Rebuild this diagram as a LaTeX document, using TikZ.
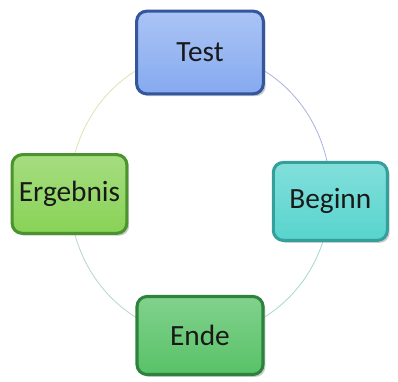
\documentclass[tikz,border=0pt]{standalone}
\usepackage{fontspec}
\setmainfont{Carlito}
\usetikzlibrary{shadows,backgrounds}
\definecolor{testfill}{HTML}{86AAF0}
\definecolor{testline}{HTML}{34569F}
\definecolor{begfill}{HTML}{58D4CE}
\definecolor{begline}{HTML}{35A09B}
\definecolor{ergfill}{HTML}{88D256}
\definecolor{ergline}{HTML}{4A932E}
\definecolor{endfill}{HTML}{58C267}
\definecolor{endline}{HTML}{2C843C}
\tikzset{
  stepbox/.style={rectangle, rounded corners=7.5pt, line width=2.3pt,
    font=\fontsize{22}{25}\selectfont, text=black!90, inner sep=0pt,
    drop shadow={shadow xshift=1.8pt, shadow yshift=-1.8pt, opacity=0.4}},
  ring/.style={line width=0.6pt}
}
\begin{document}
\begin{tikzpicture}[x=0.75pt,y=0.75pt]
\useasboundingbox (0,0) rectangle (398,381);
\coordinate (mid) at (200,187);
% the four boxes on the ring
\node[stepbox, draw=testline, top color=testfill!70!white, bottom color=testfill,
  minimum width=95pt, minimum height=62pt] (test) at ([shift={(90:130.5 and 141.5)}]mid) {Test};
\node[stepbox, draw=begline, top color=begfill!75!white, bottom color=begfill,
  minimum width=85.5pt, minimum height=58.5pt] (beginn) at ([shift={(-3:130.5 and 141.5)}]mid) {Beginn};
\node[stepbox, draw=endline, top color=endfill!75!white, bottom color=endfill,
  minimum width=94.5pt, minimum height=58.5pt] (ende) at ([shift={(-90:130.5 and 141.5)}]mid) {Ende};
\node[stepbox, draw=ergline, top color=ergfill!75!white, bottom color=ergfill,
  minimum width=86pt, minimum height=59pt] (ergebnis) at ([shift={(180:130.5 and 141.5)}]mid) {Ergebnis};
% ring segments behind
\begin{scope}[on background layer]
\draw[ring, color={rgb,255:red,170;green,178;blue,222}] (test.center) arc[start angle=90, end angle=-3, x radius=97.875pt, y radius=106.125pt];
\draw[ring, color={rgb,255:red,160;green,218;blue,206}] (beginn.center) arc[start angle=-3, end angle=-90, x radius=97.875pt, y radius=106.125pt];
\draw[ring, color={rgb,255:red,184;green,214;blue,196}] (ende.center) arc[start angle=-90, end angle=-180, x radius=97.875pt, y radius=106.125pt];
\draw[ring, color={rgb,255:red,214;green,230;blue,176}] (ergebnis.center) arc[start angle=180, end angle=90, x radius=97.875pt, y radius=106.125pt];
\end{scope}
\end{tikzpicture}
\end{document}
